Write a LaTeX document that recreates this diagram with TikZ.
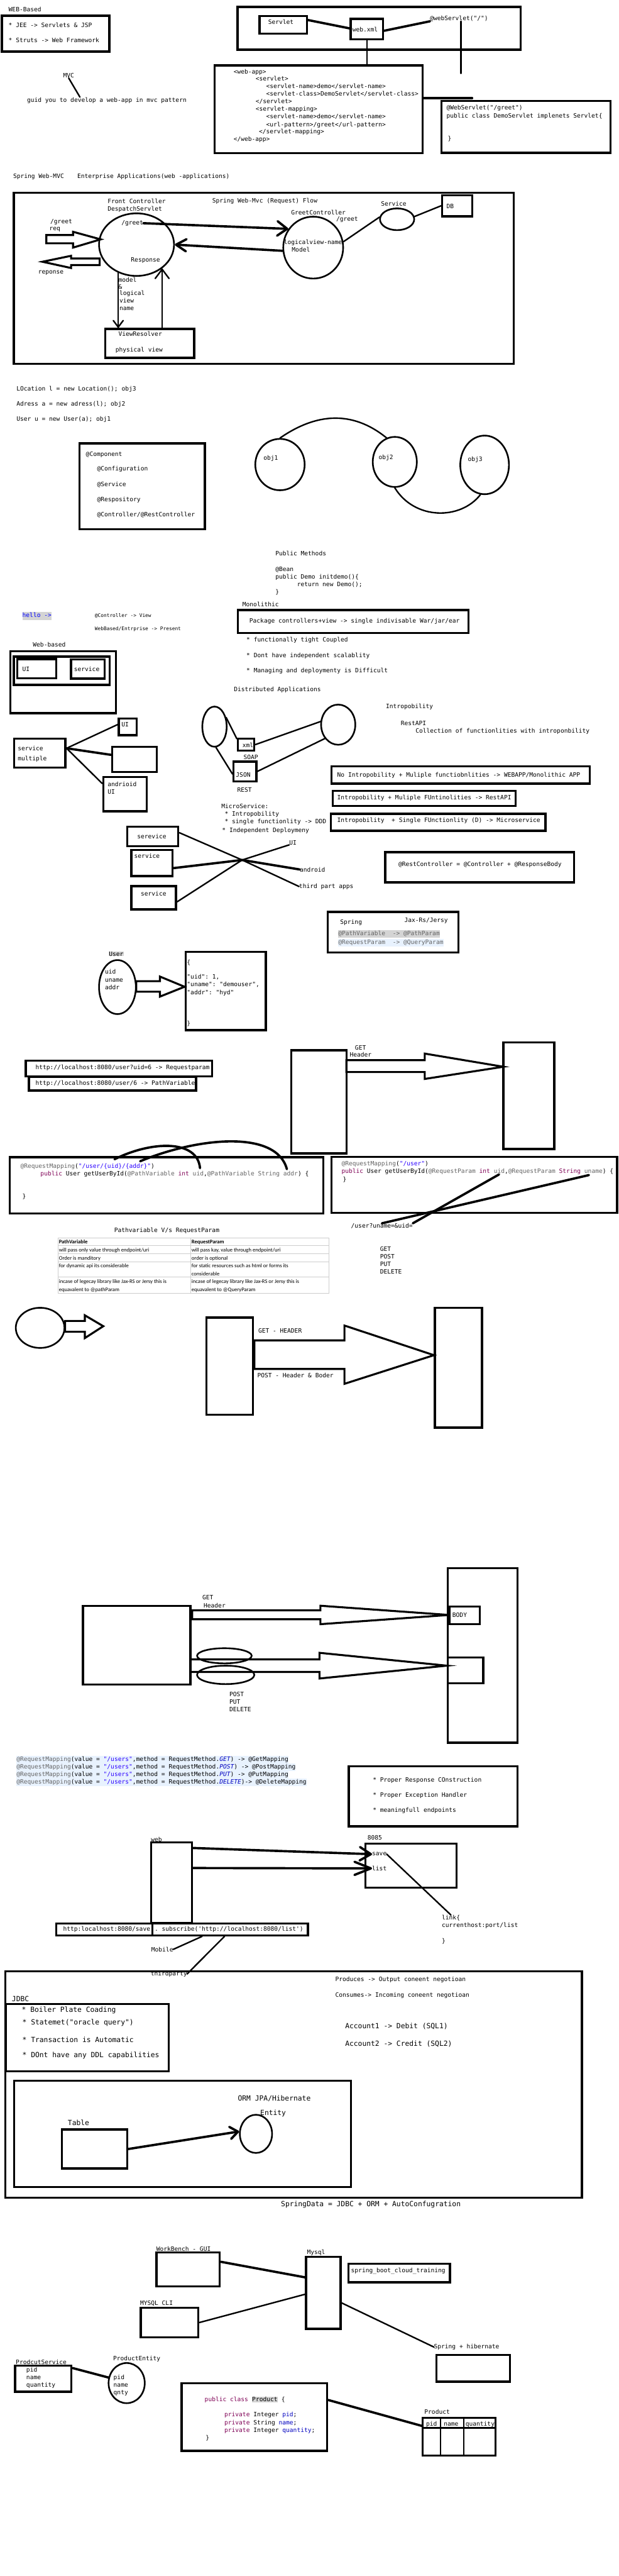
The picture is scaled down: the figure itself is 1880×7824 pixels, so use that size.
\documentclass[tikz,border=0pt]{standalone}
\usepackage{fontspec}
\setmonofont{DejaVu Sans Mono}
\newfontfamily\tablefont{Carlito}
\usetikzlibrary{arrows.meta,positioning,fit,shapes.geometric}
\definecolor{kwpurple}{RGB}{127,0,85}
\definecolor{strblue}{RGB}{42,0,255}
\definecolor{fieldblue}{RGB}{0,0,192}
\definecolor{annogray}{RGB}{100,100,100}
\definecolor{hlgray}{RGB}{212,212,212}
\definecolor{hlblue}{RGB}{232,242,254}
\definecolor{rulegray}{RGB}{205,205,205}
\definecolor{linkblue}{RGB}{0,0,255}
\newcommand\sketchfont{\ttfamily\fontsize{18.3}{23}\selectfont}
\newcommand\bigsketchfont{\ttfamily\fontsize{21.6}{27}\selectfont}
\newcommand\smallsketchfont{\ttfamily\fontsize{15}{19}\selectfont}
\newcommand\cellfont{\tablefont\fontsize{16.5}{24}\selectfont}
\setlength\fboxsep{1pt}
\newcommand\blockarrow[8]{%
  \draw[arrowshape] (#1,#4) -- (#2,#4) -- (#2,#6) -- (#3,#8) -- (#2,#7) -- (#2,#5) -- (#1,#5) -- cycle;}
\tikzset{
  box/.style={draw, line width=6.5pt, inner sep=0pt},
  oval/.style={draw, ellipse, line width=5pt, inner sep=0pt},
  txt/.style={anchor=base west, inner sep=0pt, yshift=-6.6pt, font=\sketchfont},
  bigtxt/.style={anchor=base west, inner sep=0pt, yshift=-7.8pt, font=\bigsketchfont},
  smalltxt/.style={anchor=base west, inner sep=0pt, yshift=-5.4pt, font=\smallsketchfont},
  celltxt/.style={anchor=base west, inner sep=0pt, yshift=-5pt, font=\cellfont},
  wire/.style={line width=4.5pt, line cap=round},
  thickwire/.style={line width=7pt, line cap=round},
  vtip/.style n args={2}{-{Straight Barb[length=#1,width=#2,round]}},
  arrowshape/.style={draw, line width=6pt, line join=miter},
  tablerule/.style={draw=rulegray, line width=1.2pt},
}
\begin{document}
\begin{tikzpicture}[x=1pt, y=-1pt]
\fill[white] (0,0) rectangle (1880,7824);
\useasboundingbox (0,0) rectangle (1880,7824);

% ---------------- web-based: servlets and web.xml ----------------
\node[txt] (t-webbased) at (26,29) {WEB-Based};
\node[box, fit={(6,48) (332,157)}] (b-webbased) {};
\node[txt] (t-jee) at (26,76) {* JEE -> Servlets \& JSP};
\node[txt] (t-struts) at (26,122) {* Struts -> Web Framework};

\node[box, fit={(722,21) (1583,151)}] (b-servletgrp) {};
\node[box, fit={(789,49) (933,102)}] (b-servlet) {};
\node[txt] (t-servlet) at (815,67) {Servlet};
\node[box, fit={(1066,57) (1164,119)}] (b-webxml) {};
\node[txt] (t-webxml) at (1071,90) {web.xml};
\node[txt] (t-atweb) at (1307,55) {@webServlet("/")};

\node[box, fit={(652,199) (1285,465)}] (b-webapp) {};
\node[txt] (t-wa1) at (710,217) {<web-app>};
\node[txt] (t-wa2) at (777,239) {<servlet>};
\node[txt] (t-wa3) at (809,262) {<servlet-name>demo</servlet-name>};
\node[txt] (t-wa4) at (809,285) {<servlet-class>DemoServlet</servlet-class>};
\node[txt] (t-wa5) at (777,308) {</servlet>};
\node[txt] (t-wa6) at (777,331) {<servlet-mapping>};
\node[txt] (t-wa7) at (809,354) {<servlet-name>demo</servlet-name>};
\node[txt] (t-wa8) at (809,378) {<url-pattern>/greet</url-pattern>};
\node[txt] (t-wa9) at (787,400) {</servlet-mapping>};
\node[txt] (t-wa10) at (710,423) {</web-app>};

\node[box, fit={(1342,307) (1856,464)}] (b-demoservlet) {};
\node[txt] (t-ds1) at (1357,327) {@WebServlet("/greet")};
\node[txt] (t-ds2) at (1357,351) {public class DemoServlet implenets Servlet\{};
\node[txt] (t-ds3) at (1361,421) {\}};

\coordinate (c-atweb-end) at (1401,223);
\coordinate (c-wa-end) at (1435,298);
\draw[thickwire] (b-servlet.11) -- (b-webxml.178);
\draw[thickwire] (b-webxml.-6) -- (t-atweb.south west);
\draw[wire] (b-webxml.south) -- (b-webxml.south |- b-webapp.north);
\draw[wire] (t-atweb.south -| c-atweb-end) -- (c-atweb-end);
\draw[thickwire] (b-webapp.east |- c-wa-end) -- (c-wa-end);

\node[txt] (t-mvc) at (192,230) {MVC};
\node[txt] (t-guid) at (82,304) {guid you to develop a web-app in mvc pattern};
\coordinate (c-mvc-end) at (243,295);
\draw[wire] (t-mvc.south) -- (c-mvc-end);

% ---------------- spring web-mvc request flow ----------------
\node[txt] (t-springmvc) at (40,535) {Spring Web-MVC};
\node[txt] (t-enterprise) at (235,535) {Enterprise Applications(web -applications)};
\node[box, fit={(42,585) (1562,1105)}] (b-mvc) {};
\node[txt] (t-front) at (327,612) {Front Controller};
\node[txt] (t-despatch) at (327,635) {DespatchServlet};
\node[txt] (t-flow) at (645,610) {Spring Web-Mvc (Request) Flow};
\node[txt] (t-service) at (1158,619) {Service};
\node[box, fit={(1344,593) (1435,657)}] (b-db) {};
\node[txt] (t-db) at (1357,626) {DB};
\node[oval, minimum width=104pt, minimum height=66pt] (e-service) at (1207,666) {};
\node[txt] (t-greetctrl) at (885,646) {GreetController};
\node[txt] (t-ggreet) at (1022,664) {/greet};
\node[oval, minimum width=182pt, minimum height=188pt] (e-greet) at (952,752) {};
\node[txt] (t-logical) at (863,735) {logicalview-name};
\node[txt] (t-model) at (887,758) {Model};
\node[oval, minimum width=228pt, minimum height=190pt] (e-dispatch) at (415,743) {};
\node[txt] (t-dgreet) at (369,676) {/greet};
\node[txt] (t-response) at (398,789) {Response};
\node[txt] (t-reqgreet) at (153,673) {/greet};
\node[txt] (t-req) at (150,694) {req};
\node[txt] (t-reponse) at (116,826) {reponse};
\node[txt] (t-vm1) at (360,850) {model};
\node[txt] (t-vm2) at (360,872) {\&};
\node[txt] (t-vm3) at (363,890) {logical};
\node[txt] (t-vm4) at (363,913) {view};
\node[txt] (t-vm5) at (363,936) {name};
\node[box, fit={(320,999) (590,1087)}] (b-vr) {};
\node[txt] (t-vr) at (360,1015) {ViewResolver};
\node[txt] (t-physical) at (351,1062) {physical view};

\draw[wire] (e-greet.11) -- (e-service.173);
\draw[wire] (e-service.9) -- (b-db.west);
\draw[thickwire, vtip={30pt}{44pt}] (t-dgreet.east) -- (e-greet.143);
\draw[thickwire, vtip={31pt}{37pt}] (e-greet.186) -- (e-dispatch.east);
\draw[wire, vtip={20pt}{30pt}] (e-dispatch.237) -- (e-dispatch.237 |- b-vr.north);
\draw[wire, vtip={28pt}{42pt}] (b-vr.north -| e-dispatch.-43) -- (e-dispatch.-43);
\blockarrow{141}{222}{306}{714}{739}{704}{752}{727}
\blockarrow{303}{216}{129}{785}{805}{777}{814}{795}

% ---------------- objects and annotations ----------------
\node[txt] (t-loc) at (50,1181) {LOcation l = new Location(); obj3};
\node[txt] (t-adr) at (50,1227) {Adress a = new adress(l); obj2};
\node[txt] (t-user) at (50,1272) {User u = new User(a); obj1};
\node[box, fit={(242,1347) (623,1607)}] (b-comp) {};
\node[txt] (t-comp1) at (261,1379) {@Component};
\node[txt] (t-comp2) at (295,1424) {@Configuration};
\node[txt] (t-comp3) at (295,1470) {@Service};
\node[txt] (t-comp4) at (295,1516) {@Respository};
\node[txt] (t-comp5) at (295,1562) {@Controller/@RestController};
\node[oval, minimum width=150pt, minimum height=156pt] (e-obj1) at (851,1411) {};
\node[txt] (t-obj1) at (801,1391) {obj1};
\node[oval, minimum width=134pt, minimum height=152pt] (e-obj2) at (1200,1403) {};
\node[txt] (t-obj2) at (1151,1389) {obj2};
\node[oval, minimum width=148pt, minimum height=178pt] (e-obj3) at (1473,1412) {};
\node[txt] (t-obj3) at (1422,1394) {obj3};
\draw[wire] (e-obj1.north) .. controls (960,1255) and (1070,1245) .. (e-obj2.109);
\draw[wire] (e-obj2.south) .. controls (1260,1580) and (1400,1580) .. (e-obj3.-98);

\node[txt] (t-pubmeth) at (837,1681) {Public Methods};
\node[txt] (t-bean) at (837,1728) {@Bean};
\node[txt] (t-initdemo) at (837,1751) {public Demo initdemo()\{};
\node[txt] (t-return) at (903,1774) {return new Demo();};
\node[txt] (t-initclose) at (837,1798) {\}};

\node[txt] (t-monolithic) at (737,1836) {Monolithic};
\node[box, fit={(723,1853) (1424,1922)}] (b-mono) {};
\node[txt] (t-package) at (758,1886) {Package controllers+view -> single indivisable War/jar/ear};
\node[txt, fill=hlgray, text=linkblue] (t-hello) at (68,1869) {\strut hello ->\hspace{12pt}};
\node[smalltxt] (t-ctrlview) at (288,1869) {@Controller -> View};
\node[smalltxt] (t-present) at (288,1909) {WebBased/Entrprise -> Present};
\node[txt] (t-tight) at (749,1942) {* functionally tight Coupled};
\node[txt] (t-scal) at (749,1991) {* Dont have independent scalablity};
\node[txt] (t-manage) at (749,2037) {* Managing and deploymenty is Difficult};

% ---------------- web-based vs distributed ----------------
\node[txt] (t-webbased2) at (100,1958) {Web-based};
\node[box, fit={(32,1978) (352,2166)}] (b-wbouter) {};
\node[box, fit={(42,1994) (333,2080)}] (b-wbinner) {};
\node[box, fit={(52,2002) (171,2060)}] (b-ui) {};
\node[txt] (t-ui) at (68,2032) {UI};
\node[box, fit={(216,2003) (318,2061)}] (b-svc) {};
\node[txt] (t-svc) at (225,2032) {service};

\node[txt] (t-distributed) at (711,2093) {Distributed Applications};
\node[oval, minimum width=74pt, minimum height=122pt] (e-left) at (652,2207) {};
\node[oval, minimum width=104pt, minimum height=122pt] (e-right) at (1028,2201) {};
\node[box, fit={(723,2243) (773,2280)}] (b-xml) {};
\node[txt] (t-xml) at (737,2264) {xml};
\node[box, fit={(710,2313) (779,2373)}] (b-json) {};
\node[txt] (t-json) at (717,2354) {JSON};
\node[txt] (t-soap) at (740,2299) {SOAP};
\node[txt] (t-rest) at (721,2400) {REST};
\draw[wire] (e-left.38) -- (b-xml.148);
\draw[wire] (b-xml.east) -- (e-right.170);
\draw[wire] (e-left.-86) -- (b-json.192);
\draw[wire] (b-json.east) -- (e-right.226);

\node[txt] (t-intro) at (1173,2145) {Intropobility};
\node[txt] (t-restapi) at (1218,2196) {RestAPI};
\node[txt] (t-collection) at (1263,2219) {Collection of functionlities with introponbility};

\node[box, fit={(43,2243) (199,2331)}] (b-sm) {};
\node[txt] (t-sm1) at (54,2273) {service};
\node[txt] (t-sm2) at (54,2303) {multiple};
\node[box, fit={(361,2182) (415,2233)}] (b-ui2) {};
\node[txt] (t-ui2) at (369,2200) {UI};
\node[box, fit={(341,2268) (477,2345)}] (b-empty) {};
\node[box, fit={(314,2360) (446,2464)}] (b-android) {};
\node[txt] (t-andrioid) at (327,2382) {andrioid};
\node[txt] (t-andui) at (327,2405) {UI};
\draw[wire] (b-sm.10) -- (b-ui2.167);
\draw[thickwire] (b-sm.10) -- (b-empty.169);
\draw[wire] (b-sm.10) -- (b-android.155);

\node[box, fit={(1008,2328) (1793,2380)}] (b-nointro) {};
\node[txt] (t-nointro) at (1025,2353) {No Intropobility + Muliple functiobnlities -> WEBAPP/Monolithic APP};
\node[box, fit={(1011,2402) (1567,2448)}] (b-intrest) {};
\node[txt] (t-intrest) at (1025,2423) {Intropobility + Muliple FUntinolities -> RestAPI};
\node[box, fit={(1006,2472) (1658,2523)}] (b-intmicro) {};
\node[txt] (t-intmicro) at (1025,2491) {Intropobility~ + Single FUnctionlity (D) -> Microservice};

% ---------------- microservices ----------------
\node[txt] (t-micro) at (673,2449) {MicroService:};
\node[txt] (t-m1) at (683,2471) {* Intropobility};
\node[txt] (t-m2) at (683,2495) {* single functionlity -> DDD};
\node[txt] (t-m3) at (675,2522) {* Independent Deploymeny};
\node[box, fit={(387,2511) (542,2570)}] (b-serevice) {};
\node[txt] (t-serevice) at (417,2541) {serevice};
\node[box, fit={(399,2582) (524,2661)}] (b-service2) {};
\node[txt] (t-service2) at (408,2600) {service};
\node[box, fit={(399,2691) (535,2762)}] (b-service3) {};
\node[txt] (t-service3) at (428,2714) {service};
\node[txt] (t-ui4) at (879,2559) {UI};
\node[txt] (t-android) at (911,2641) {android};
\node[txt] (t-thirdapps) at (909,2691) {third part apps};
\coordinate (c-hub) at (736,2612);
\draw[wire] (b-serevice.8) -- (c-hub);
\draw[wire] (c-hub) -- (t-ui4.south west);
\draw[thickwire] (b-service2.-13) -- (c-hub);
\draw[thickwire] (c-hub) -- (t-android.west);
\draw[wire] (c-hub) -- (t-thirdapps.west);
\draw[wire] (b-service3.-10) -- (c-hub);

\node[box, fit={(1171,2588) (1745,2680)}] (b-restctrl) {};
\node[txt] (t-restctrl) at (1211,2624) {@RestController = @Controller + @ResponseBody};

\node[box, fit={(996,2770) (1393,2893)}] (b-spring) {};
\node[txt] (t-spring) at (1034,2801) {Spring};
\node[txt] (t-jax) at (1229,2794) {Jax-Rs/Jersy};
\node[txt, fill=hlgray, text=annogray] (t-pathvar) at (1028,2835) {\strut @PathVariable~ -> @PathParam};
\node[txt, fill=hlblue, text=annogray] (t-reqparam) at (1028,2862) {\strut @RequestParam~ -> @QueryParam};

% ---------------- object to json ----------------
\node[txt, fill=hlgray, inner xsep=1pt] (t-userlbl) at (330,2897) {User};
\node[oval, minimum width=112pt, minimum height=164pt] (e-user) at (357,2998) {};
\node[txt] (t-uid) at (319,2952) {uid};
\node[txt] (t-uname) at (319,2976) {uname};
\node[txt] (t-addr) at (319,2999) {addr};
\blockarrow{414}{486}{561}{2980}{3012}{2966}{3027}{2997}
\node[box, fit={(564,2891) (808,3129)}] (b-json2) {};
\node[txt] (t-js1) at (568,2922) {\{};
\node[txt] (t-js2) at (568,2967) {"uid": 1,};
\node[txt] (t-js3) at (568,2990) {"uname": "demouser",};
\node[txt] (t-js4) at (568,3014) {"addr": "hyd"};
\node[txt] (t-js5) at (568,3107) {\}};

% ---------------- get header ----------------
\node[box, fit={(885,3190) (1053,3503)}] (b-getleft) {};
\node[box, fit={(1530,3166) (1685,3490)}] (b-getright) {};
\node[txt] (t-get) at (1079,3183) {GET};
\node[txt] (t-header) at (1063,3203) {Header};
\blockarrow{1053}{1291}{1530}{3220}{3256}{3200}{3277}{3240}

\node[box, fit={(78,3222) (645,3269)}] (b-url1) {};
\node[txt] (t-url1) at (108,3242) {http://localhost:8080/user?uid=6 -> Requestparam};
\node[box, fit={(88,3271) (596,3312)}] (b-url2) {};
\node[txt] (t-url2) at (108,3290) {http://localhost:8080/user/6 -> PathVariable};

% ---------------- path variable vs request param ----------------
\node[box, fit={(30,3515) (983,3686)}] (b-code1) {};
\node[txt] (t-rm1) at (62,3541) {{\color{annogray}@RequestMapping}({\color{strblue}"/user/\{uid\}/\{addr\}"})};
\node[txt] (t-sig1) at (123,3564) {{\color{kwpurple}public} User getUserById({\color{annogray}@PathVariable} {\color{kwpurple}int} {\color{annogray}uid},{\color{annogray}@PathVariable} {\color{annogray}String} {\color{annogray}addr}) \{};
\node[txt] (t-c1) at (68,3633) {\}};
\coordinate (c-pv1a) at (348,3521);
\coordinate (c-pv1b) at (608,3548);
\coordinate (c-pv2a) at (426,3527);
\coordinate (c-pv2b) at (872,3551);
\draw[thickwire] (c-pv1a) .. controls (460,3465) and (600,3460) .. (c-pv1b);
\draw[thickwire] (c-pv2a) .. controls (600,3455) and (840,3430) .. (c-pv2b);

\node[box, fit={(1008,3514) (1876,3684)}] (b-code2) {};
\node[txt] (t-rm2) at (1038,3534) {{\color{annogray}@RequestMapping}({\color{strblue}"/user"})};
\node[txt] (t-sig2) at (1038,3557) {{\color{kwpurple}public} User getUserById({\color{annogray}@RequestParam} {\color{kwpurple}int} {\color{annogray}uid},{\color{annogray}@RequestParam} {\color{kwpurple}String} {\color{annogray}uname}) \{};
\node[txt] (t-c2) at (1042,3582) {\}};
\node[txt] (t-query) at (1067,3723) {/user?uname=\&uid=};
\coordinate (c-uid) at (1517,3567);
\coordinate (c-uname) at (1790,3569);
\draw[thickwire] (c-uid) -- (t-query.north east);
\draw[thickwire] (c-uname) -- (t-query.north);

\node[txt] (t-vs) at (347,3736) {Pathvariable V/s RequestParam};
\node[tablerule, inner sep=0pt, fit={(176,3759) (999,3927)}] (b-pvtable) {};
\draw[tablerule] (b-pvtable.north -| 579,0) -- (b-pvtable.south -| 579,0);
\draw[tablerule] (b-pvtable.west |- 0,3783) -- (b-pvtable.east |- 0,3783);
\draw[tablerule] (b-pvtable.west |- 0,3807) -- (b-pvtable.east |- 0,3807);
\draw[tablerule] (b-pvtable.west |- 0,3832) -- (b-pvtable.east |- 0,3832);
\draw[tablerule] (b-pvtable.west |- 0,3879) -- (b-pvtable.east |- 0,3879);
\node[celltxt, font=\cellfont\bfseries] (t-th1) at (179,3773) {PathVariable};
\node[celltxt, font=\cellfont\bfseries] (t-th2) at (582,3773) {RequestParam};
\node[celltxt] (t-r1a) at (179,3797) {will pass only value through endpoint/uri};
\node[celltxt] (t-r1b) at (582,3797) {will pass kay, value through endpoint/uri};
\node[celltxt] (t-r2a) at (179,3821) {Order is manditory};
\node[celltxt] (t-r2b) at (582,3821) {order is optional};
\node[celltxt] (t-r3a) at (179,3845) {for dynamic api its considerable};
\node[celltxt] (t-r3b) at (582,3845) {for static resources such as html or forms its};
\node[celltxt] (t-r3c) at (582,3869) {considerable};
\node[celltxt] (t-r4a) at (179,3892) {incase of legecay library like Jax-RS or Jersy this is};
\node[celltxt] (t-r4b) at (179,3917) {equavalent to @pathParam};
\node[celltxt] (t-r4c) at (582,3892) {incase of legecay library like Jax-RS or Jersy this is};
\node[celltxt] (t-r4d) at (582,3917) {equavalent to @QueryParam};

\node[txt] (t-get2) at (1155,3793) {GET};
\node[txt] (t-post) at (1155,3817) {POST};
\node[txt] (t-put) at (1155,3839) {PUT};
\node[txt] (t-delete) at (1155,3863) {DELETE};

% ---------------- header and body ----------------
\node[oval, minimum width=148pt, minimum height=122pt] (e-client) at (122,4033) {};
\blockarrow{198}{258}{314}{4012}{4045}{3995}{4064}{4028}
\node[box, fit={(627,4002) (769,4297)}] (b-tall1) {};
\node[box, fit={(1322,3972) (1465,4336)}] (b-tall2) {};
\blockarrow{773}{1047}{1319}{4071}{4158}{4026}{4203}{4116}
\node[txt] (t-getheader) at (785,4041) {GET - HEADER};
\node[txt] (t-postheader) at (782,4177) {POST - Header \& Boder};

\node[box, fit={(252,4877) (579,5116)}] (b-left8) {};
\node[box, fit={(1361,4763) (1573,5293)}] (b-right8) {};
\node[txt] (t-get3) at (615,4851) {GET};
\node[txt] (t-header3) at (619,4877) {Header};
\blockarrow{584}{974}{1365}{4891}{4918}{4877}{4933}{4905}
\blockarrow{579}{971}{1358}{5040}{5078}{5020}{5098}{5059}
\node[box, fit={(1367,4880) (1458,4933)}] (b-body) {};
\node[txt] (t-body) at (1375,4906) {BODY};
\node[box, fit={(1361,5034) (1469,5112)}] (b-small8) {};
\node[oval, minimum width=166pt, minimum height=46pt] (e-ov1) at (682,5029) {};
\node[oval, minimum width=174pt, minimum height=56pt] (e-ov2) at (686,5087) {};
\node[txt] (t-post2) at (697,5146) {POST};
\node[txt] (t-put2) at (697,5168) {PUT};
\node[txt] (t-delete2) at (697,5191) {DELETE};

% ---------------- mapping shortcuts ----------------
\node[txt, fill=hlblue] (t-map1) at (50,5342) {\strut{\color{annogray}@RequestMapping}(value = {\color{strblue}"/users"},method = RequestMethod.{\color{fieldblue}\itshape GET}) -> @GetMapping};
\node[txt, fill=hlblue] (t-map2) at (50,5365) {\strut{\color{annogray}@RequestMapping}(value = {\color{strblue}"/users"},method = RequestMethod.{\color{fieldblue}\itshape POST}) -> @PostMapping};
\node[txt, fill=hlblue] (t-map3) at (50,5388) {\strut{\color{annogray}@RequestMapping}(value = {\color{strblue}"/users"},method = RequestMethod.{\color{fieldblue}\itshape PUT}) -> @PutMapping};
\node[txt, fill=hlblue] (t-map4) at (50,5411) {\strut{\color{annogray}@RequestMapping}(value = {\color{strblue}"/users"},method = RequestMethod.{\color{fieldblue}\itshape DELETE})-> @DeleteMapping};

\node[box, fit={(1060,5365) (1573,5547)}] (b-proper) {};
\node[txt] (t-p1) at (1133,5405) {* Proper Response COnstruction};
\node[txt] (t-p2) at (1133,5451) {* Proper Exception Handler};
\node[txt] (t-p3) at (1133,5497) {* meaningfull endpoints};

% ---------------- web, mobile, thirdparty ----------------
\node[txt] (t-web) at (459,5587) {web};
\node[box, fit={(459,5596) (584,5840)}] (b-web) {};
\node[txt] (t-8085) at (1117,5581) {8085};
\node[box, fit={(1111,5599) (1388,5733)}] (b-8085) {};
\node[txt] (t-save) at (1131,5630) {save};
\node[txt] (t-list) at (1131,5675) {list};
\draw[thickwire, vtip={34pt}{41pt}] (b-web.58) -- (t-save.west);
\draw[thickwire, vtip={50pt}{40pt}] (b-web.34) -- (t-list.west);
\node[txt] (t-link) at (1343,5824) {link\{};
\node[txt] (t-curhost) at (1343,5847) {currenthost:port/list};
\node[txt] (t-linkclose) at (1343,5895) {\}};
\draw[wire] (t-save.east) -- (t-link.north);

\node[box, fit={(171,5842) (463,5878)}] (b-urlsave) {};
\node[box, fit={(463,5842) (936,5878)}] (b-urllist) {};
\node[txt] (t-urlsave) at (192,5858) {http:localhost:8080/save};
\node[txt] (t-urllist) at (470,5858) {. subscribe('http://localhost:8080/list')};
\node[txt] (t-mobile) at (460,5921) {Mobile};
\node[txt] (t-thirdparty) at (458,5994) {thirdparty};
\draw[wire] (b-urllist.194) -- (t-mobile.east);
\draw[wire] (b-urllist.231) -- (t-thirdparty.east);

% ---------------- jdbc and orm ----------------
\node[box, fit={(16,5987) (1769,6675)}] (b-data) {};
\node[txt] (t-produces) at (1019,6012) {Produces -> Output coneent negotioan};
\node[txt] (t-consumes) at (1019,6059) {Consumes-> Incoming coneent negotioan};
\node[bigtxt] (t-jdbc) at (36,6071) {JDBC};
\node[box, fit={(17,6087) (513,6291)}] (b-jdbc) {};
\node[bigtxt] (t-j1) at (66,6103) {* Boiler Plate Coading};
\node[bigtxt] (t-j2) at (68,6141) {* Statemet("oracle query")};
\node[bigtxt] (t-j3) at (68,6195) {* Transaction is Automatic};
\node[bigtxt] (t-j4) at (68,6242) {* DOnt have any DDL capabilities};
\node[bigtxt] (t-acc1) at (1049,6154) {Account1 -> Debit (SQL1)};
\node[bigtxt] (t-acc2) at (1049,6207) {Account2 -> Credit (SQL2)};
\node[box, fit={(43,6320) (1067,6643)}] (b-orm) {};
\node[bigtxt] (t-orm) at (723,6373) {ORM JPA/Hibernate};
\node[bigtxt] (t-entity) at (791,6416) {Entity};
\node[bigtxt] (t-table) at (206,6448) {Table};
\node[box, fit={(188,6468) (387,6586)}] (b-table) {};
\node[oval, minimum width=98pt, minimum height=116pt] (e-entity) at (778,6481) {};
\draw[thickwire, vtip={24pt}{37pt}] (b-table.east) -- (e-entity.172);
\node[bigtxt] (t-springdata) at (854,6694) {SpringData = JDBC + ORM + AutoConfugration};

% ---------------- mysql clients ----------------
\node[txt] (t-workbench) at (475,6831) {WorkBench - GUI};
\node[box, fit={(476,6841) (668,6944)}] (b-wb) {};
\node[txt] (t-mysql) at (933,6840) {Mysql};
\node[box, fit={(930,6854) (1035,7073)}] (b-mysql) {};
\node[box, fit={(1059,6876) (1368,6932)}] (b-sbct) {};
\node[txt] (t-sbct) at (1067,6896) {spring\_boot\_cloud\_training};
\node[txt] (t-cli) at (426,6995) {MYSQL CLI};
\node[box, fit={(428,7009) (603,7099)}] (b-cli) {};
\node[txt] (t-springhib) at (1319,7127) {Spring + hibernate};
\draw[thickwire] (b-wb.13) -- (b-mysql.140);
\draw[wire] (b-cli.east) -- (b-mysql.185);
\draw[wire] (b-mysql.-29) -- (t-springhib.west);

% ---------------- product: service, entity, table ----------------
\node[txt] (t-prodsvc) at (48,7175) {ProdcutService};
\node[box, fit={(46,7185) (217,7264)}] (b-prodsvc) {};
\node[txt] (t-ps1) at (80,7198) {pid};
\node[txt] (t-ps2) at (80,7221) {name};
\node[txt] (t-ps3) at (80,7244) {quantity};
\node[txt] (t-prodent) at (344,7163) {ProductEntity};
\node[oval, minimum width=110pt, minimum height=122pt] (e-prodent) at (385,7238) {};
\node[txt] (t-pe1) at (345,7220) {pid};
\node[txt] (t-pe2) at (345,7243) {name};
\node[txt] (t-pe3) at (345,7266) {qnty};
\draw[thickwire] (b-prodsvc.20) -- (e-prodent.163);

\node[box, fit={(552,7238) (994,7444)}] (b-prodcode) {};
\node[txt] (t-pc1) at (622,7288) {{\color{kwpurple}public class} \colorbox{hlgray}{Product} \{};
\node[txt] (t-pc2) at (682,7334) {{\color{kwpurple}private} Integer {\color{fieldblue}pid};};
\node[txt] (t-pc3) at (682,7357) {{\color{kwpurple}private} String {\color{fieldblue}name};};
\node[txt] (t-pc4) at (682,7380) {{\color{kwpurple}private} Integer {\color{fieldblue}quantity};};
\node[txt] (t-pc5) at (625,7404) {\}};
\node[box, fit={(1327,7152) (1550,7234)}] (b-topright) {};

\node[txt] (t-product) at (1290,7325) {Product};
\node[box, fit={(1285,7343) (1506,7458)}] (b-prodtable) {};
\draw[box] (b-prodtable.west |- 0,7374) -- (b-prodtable.east |- 0,7374);
\draw[line width=4pt] (b-prodtable.north -| 1339,0) -- (b-prodtable.south -| 1339,0);
\draw[line width=4pt] (b-prodtable.north -| 1409,0) -- (b-prodtable.south -| 1409,0);
\node[txt] (t-col1) at (1295,7361) {pid};
\node[txt] (t-col2) at (1349,7361) {name};
\node[txt] (t-col3) at (1415,7361) {quantity};
\draw[thickwire] (b-prodcode.13) -- (b-prodtable.164);
\end{tikzpicture}
\end{document}
